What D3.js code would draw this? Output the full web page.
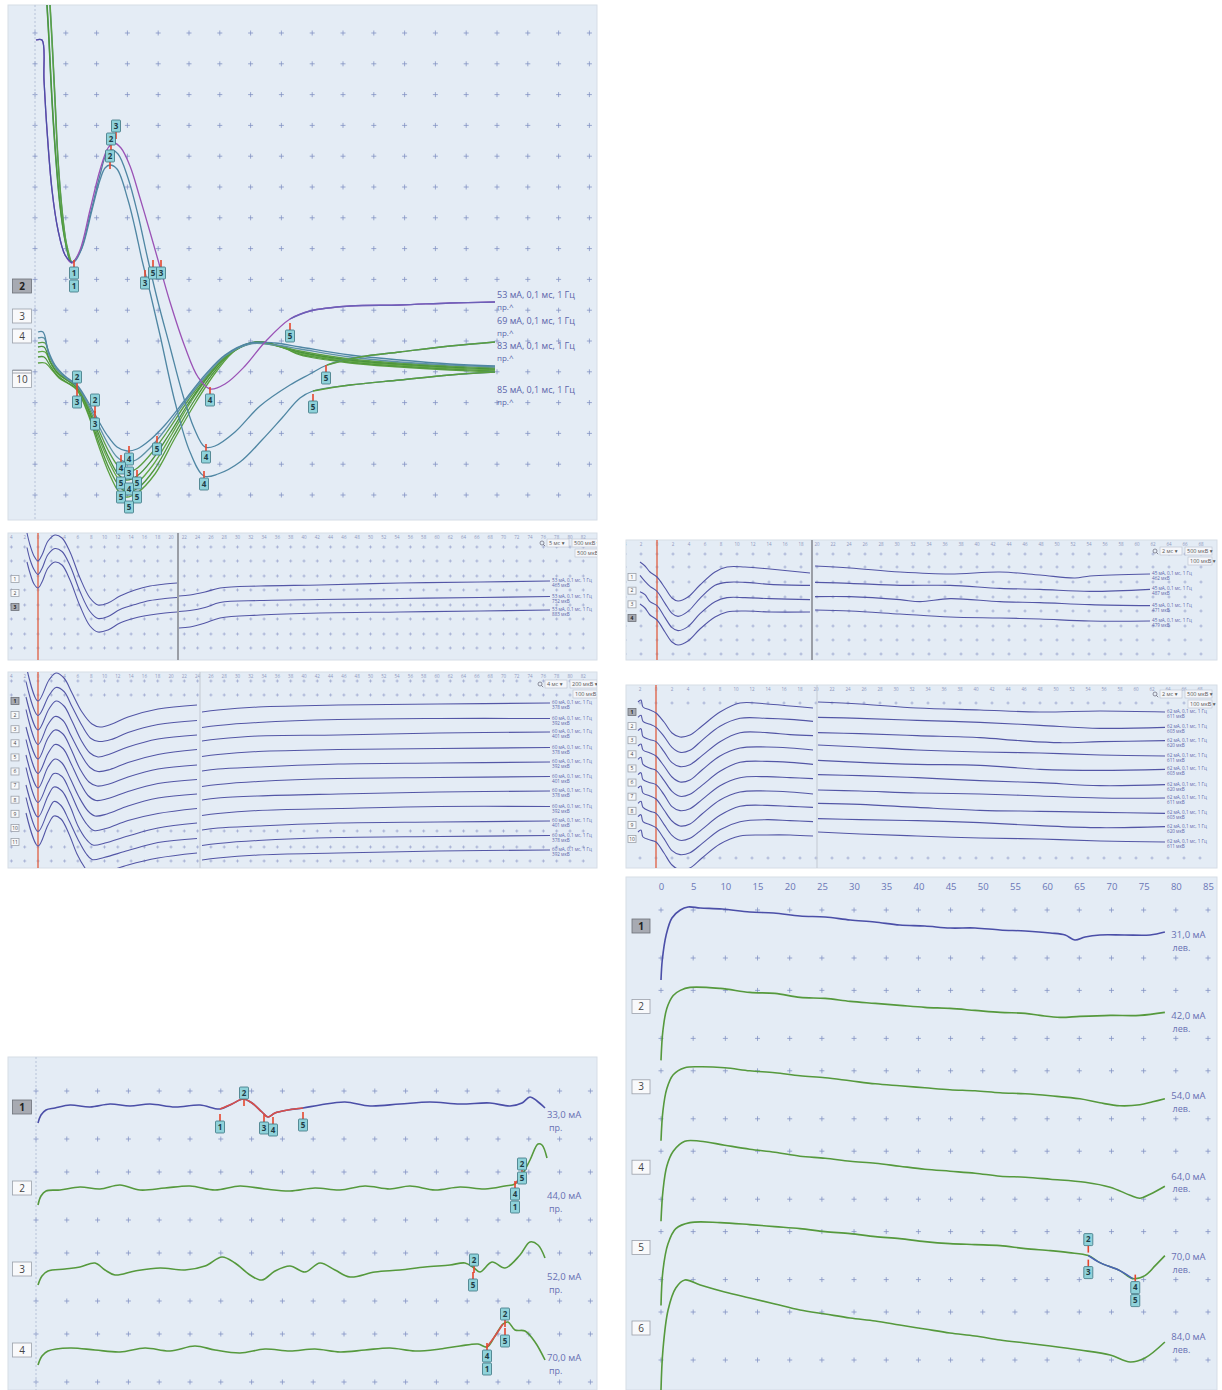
<!DOCTYPE html>
<html lang="ru">
<head>
<meta charset="utf-8">
<title>Вызванные ответы</title>
<script src="https://cdn.jsdelivr.net/npm/d3@7"></script>
<style>
  html,body{margin:0;padding:0;background:#fff;}
  svg{display:block;}
  text{font-family:"Open Sans","Noto Sans","DejaVu Sans",sans-serif;}
</style>
</head>
<body>
<script>
// ===== Panel A: superimposed responses, [time, deflection] in 0.1-division units =====
const waveA53 = [[0.1,0.7],[0.7,0.7],[0.9,4.7],[1.2,9.7],[1.7,15.7],[2.3,19.7],[3.0,22.2],[3.7,23.0],[4.5,21.7],[5.5,17.7],[6.5,13.7],[7.3,11.5],[7.9,11.0],[8.6,11.5],[9.5,13.3],[10.5,16.5],[11.5,19.9],[12.3,22.7],[13.5,26.9],[15.0,31.4],[16.3,34.4],[17.5,35.6],[19.0,35.1],[21.0,33.3],[23.0,30.9],[25.5,28.6],[27.5,27.8],[31.5,27.3],[36.5,27.2],[41.5,27.0],[46.0,26.9]];
const waveA83 = [[1.5,-2.8],[1.7,0.7],[2.0,6.7],[2.3,12.7],[2.7,17.7],[3.1,20.9],[3.6,22.9],[4.5,21.9],[5.5,18.2],[6.5,14.2],[7.1,12.2],[7.6,11.7],[8.3,12.1],[9.3,14.5],[10.3,18.2],[11.3,22.7],[12.3,26.9],[13.5,31.4],[14.7,35.9],[15.9,39.5],[17.0,41.4],[18.0,41.3],[20.0,39.9],[22.5,37.3],[25.5,35.2],[27.5,34.1],[29.2,33.2],[32.5,32.4],[36.5,31.9],[41.5,31.3],[46.0,30.9]];
const waveA85 = [[1.2,-2.8],[1.4,0.7],[1.7,6.7],[2.1,12.7],[2.5,17.2],[3.0,20.7],[3.5,22.7],[3.9,22.9],[4.7,21.5],[5.7,17.7],[6.5,14.7],[7.0,13.5],[7.5,13.2],[8.2,13.6],[9.3,16.7],[10.0,19.5],[10.7,22.7],[11.5,25.9],[12.5,30.2],[14.0,36.9],[15.5,41.9],[16.9,44.3],[18.3,44.1],[20.5,42.9],[22.7,40.7],[24.7,38.5],[26.5,36.5],[27.8,35.8],[31.5,35.2],[36.5,34.7],[41.5,34.2],[46.0,33.9]];
const sweepA1 = [[0.3,29.9],[0.8,29.9],[1.3,31.7],[2.0,33.2],[3.0,34.3],[4.2,35.2],[5.2,36.7],[6.2,38.5],[7.2,40.2],[8.2,41.4],[9.2,41.8],[10.2,41.6],[11.5,40.7],[13.0,39.2],[15.0,36.7],[17.0,34.2],[19.0,32.2],[21.5,31.0],[24.0,31.0],[26.5,31.4],[31.5,32.2],[36.5,32.7],[41.5,33.1],[46.0,33.3]];
const sweepA2 = [[0.3,30.5],[0.9,30.5],[1.4,32.2],[2.1,33.5],[3.1,34.5],[4.2,35.3],[5.2,36.9],[6.2,38.9],[7.2,40.9],[8.2,42.4],[9.1,42.9],[10.1,42.7],[11.5,41.5],[13.0,39.7],[15.0,36.9],[17.0,34.4],[19.0,32.3],[21.5,31.1],[24.0,31.2],[26.5,31.6],[31.5,32.4],[36.5,32.9],[41.5,33.2],[46.0,33.4]];
const sweepA3 = [[0.3,31.0],[1.0,31.0],[1.5,32.5],[2.2,33.7],[3.2,34.6],[4.2,35.3],[5.2,37.1],[6.2,39.3],[7.3,41.7],[8.3,43.3],[9.1,43.9],[10.1,43.6],[11.5,42.2],[13.2,39.9],[15.2,36.9],[17.2,34.3],[19.2,32.2],[21.7,31.0],[24.2,31.3],[26.5,31.8],[31.5,32.6],[36.5,33.0],[41.5,33.3],[46.0,33.5]];
const sweepA4 = [[0.3,31.4],[0.9,31.4],[1.5,32.8],[2.2,33.9],[3.2,34.7],[4.2,35.4],[5.2,37.3],[6.2,39.7],[7.3,42.3],[8.3,44.1],[9.1,44.7],[10.2,44.3],[11.7,42.7],[13.5,40.0],[15.5,36.8],[17.5,34.1],[19.5,32.0],[22.0,30.9],[24.5,31.3],[26.5,31.9],[31.5,32.7],[36.5,33.1],[41.5,33.4],[46.0,33.6]];
const sweepA5 = [[0.3,31.9],[1.0,31.9],[1.6,33.1],[2.3,34.1],[3.3,34.8],[4.2,35.5],[5.3,37.7],[6.3,40.3],[7.4,42.9],[8.4,44.7],[9.2,45.4],[10.3,44.9],[11.8,43.2],[13.7,40.1],[15.7,36.7],[17.7,33.9],[19.7,31.9],[22.2,30.9],[24.7,31.4],[26.5,32.0],[31.5,32.8],[36.5,33.2],[41.5,33.5],[46.0,33.7]];
const sweepA6 = [[0.3,32.4],[0.9,32.4],[1.6,33.4],[2.3,34.3],[3.3,35.0],[4.2,35.6],[5.3,37.9],[6.3,40.7],[7.4,43.5],[8.4,45.3],[9.2,45.9],[10.3,45.5],[11.9,43.7],[13.8,40.4],[15.9,36.8],[17.9,33.9],[19.9,31.8],[22.4,30.9],[24.9,31.5],[26.5,32.1],[31.5,32.9],[36.5,33.3],[41.5,33.6],[46.0,33.8]];
const sweepA7 = [[0.3,33.0],[1.0,33.0],[1.7,33.7],[2.4,34.5],[3.4,35.1],[4.2,35.7],[5.3,38.1],[6.3,41.1],[7.4,44.0],[8.4,45.9],[9.1,46.4],[10.2,46.0],[12.0,44.1],[14.0,40.5],[16.1,36.9],[18.1,33.9],[20.1,31.7],[22.6,30.9],[25.1,31.6],[26.5,32.2],[31.5,33.0],[36.5,33.4],[41.5,33.7],[46.0,33.9]];
// cursor tags: [time, deflection, label, stem]
const tagsA = [[3.9,25.3,"1",""],[3.9,24.0,"1","u"],[8.1,9.3,"3","d"],[7.6,10.6,"2","d"],[7.5,12.3,"2","d"],
  [11.0,25.0,"3","u"],[11.8,24.0,"5","u"],[12.6,24.0,"3","u"],[25.5,30.3,"5","u"],[17.5,36.7,"4","u"],
  [17.1,42.4,"4","u"],[16.9,45.1,"4","u"],[29.1,34.5,"5","u"],[27.8,37.4,"5","u"],
  [4.2,34.4,"2","d"],[4.2,36.9,"3","u"],[6.0,36.7,"2","d"],[6.0,39.1,"3","u"],[12.2,41.6,"5","u"],
  [9.4,42.6,"4","u"],[8.6,43.5,"4","u"],[9.4,44.0,"3",""],[8.6,45.0,"5",""],[10.2,45.0,"5","u"],
  [9.4,45.6,"4",""],[8.6,46.4,"5",""],[10.2,46.4,"5",""],[9.4,47.4,"5",""]];
const stimA = ["53 мА, 0,1 мс, 1 Гц","69 мА, 0,1 мс, 1 Гц","83 мА, 0,1 мс, 1 Гц","85 мА, 0,1 мс, 1 Гц"];

// ===== Panel B: three sweeps, [time, deflection] relative to each channel row =====
const sweepB1 = [[-1.1,-2.8],[-0.8,-1.6],[-0.4,-0.5],[0,0],[0.4,-0.6],[1.0,-2.0],[1.7,-2.6],[2.4,-2.3],[3.2,-0.9],[4.2,1.7],[5.2,3.7],[6.0,4.4],[7.0,4.2],[8.2,3.5],[9.7,2.9],[11.2,2.5],[12.7,2.3],[13.9,2.2],null,[14.1,3.5],[15.2,3.4],[16.7,3.1],[18.2,2.7],[22.2,2.5],[28.2,2.4],[36.2,2.2],[44.2,2.1],[51.2,2.0]];
const sweepB2 = [[-1.1,-2.7],[-0.8,-1.5],[-0.4,-0.5],[0,0],[0.4,-0.6],[1.0,-2.0],[1.7,-2.6],[2.4,-2.3],[3.2,-0.9],[4.2,1.7],[5.2,3.7],[6.0,4.4],[7.0,4.2],[8.2,3.5],[9.7,3.0],[11.2,2.6],[12.7,2.4],[13.9,2.3],null,[14.1,3.7],[15.2,3.6],[16.7,3.3],[18.2,2.8],[22.2,2.6],[28.2,2.5],[36.2,2.4],[44.2,2.3],[51.2,2.2]];
const sweepB3 = [[-1.1,-2.6],[-0.8,-1.5],[-0.4,-0.4],[0,0],[0.4,-0.6],[1.0,-2.0],[1.7,-2.6],[2.4,-2.3],[3.2,-0.8],[4.2,1.8],[5.2,3.8],[6.0,4.4],[7.0,4.2],[8.2,3.5],[9.7,3.0],[11.2,2.7],[12.7,2.5],[13.9,2.4],null,[14.1,4.0],[15.2,3.9],[16.7,3.5],[18.2,3.0],[22.2,2.7],[28.2,2.5],[36.2,2.4],[44.2,2.3],[51.2,2.2]];

// ===== Panel C: eleven sweeps =====
const sweepC1 = [[-1.2,-3.6],[0,0],[1.1,-2.1],[1.8,-2.8],[2.6,-2.3],[3.4,-0.8],[4.4,1.1],[5.4,2.3],[6.2,2.6],[7.4,2.3],[9,1.6],[12,0.8],[15.9,0.4],null,[16.4,1.1],[18,0.9],[22,0.6],[30,0.4],[40,0.3],[51.2,0.2]];
const sweepC2 = [[-1.2,-3.4],[0,0],[1.1,-2.0],[1.8,-2.8],[2.6,-2.4],[3.4,-0.9],[4.4,1.0],[5.3,2.3],[6.1,2.6],[7.3,2.4],[9,1.7],[12,0.9],[15.9,0.5],null,[16.4,1.2],[18,1.0],[22,0.7],[30,0.4],[40,0.3],[51.2,0.3]];
const sweepC3 = [[-1.2,-3.3],[0,0],[1.1,-2.1],[1.8,-2.9],[2.6,-2.4],[3.4,-0.9],[4.3,1.0],[5.2,2.3],[6.0,2.7],[7.2,2.4],[9,1.7],[12,0.9],[15.9,0.5],null,[16.4,1.1],[18,0.9],[22,0.6],[30,0.5],[40,0.3],[51.2,0.2]];
const sweepC4 = [[-1.2,-3.5],[0,0],[1.0,-2.0],[1.7,-2.8],[2.5,-2.4],[3.3,-0.9],[4.3,1.0],[5.2,2.3],[6.0,2.7],[7.2,2.5],[9,1.8],[12,1.0],[15.9,0.5],null,[16.4,1.2],[18,1.0],[22,0.7],[30,0.5],[40,0.4],[51.2,0.3]];
const sweepC5 = [[-1.2,-3.2],[0,0],[1.0,-2.1],[1.7,-2.9],[2.5,-2.5],[3.3,-1.0],[4.2,1.0],[5.1,2.3],[5.9,2.7],[7.1,2.5],[9,1.8],[12,1.0],[15.9,0.6],null,[16.4,1.2],[18,1.0],[22,0.8],[30,0.5],[40,0.4],[51.2,0.3]];
const sweepC6 = [[-1.2,-3.4],[0,0],[1.0,-2.0],[1.7,-2.9],[2.5,-2.5],[3.3,-1.0],[4.2,0.9],[5.0,2.2],[5.8,2.7],[7.0,2.5],[9,1.8],[12,1.0],[15.9,0.6],null,[16.4,1.3],[18,1.1],[22,0.8],[30,0.5],[40,0.4],[51.2,0.3]];
const sweepC7 = [[-1.2,-3.3],[0,0],[1.0,-2.1],[1.7,-2.9],[2.4,-2.5],[3.2,-1.0],[4.1,0.9],[5.0,2.3],[5.7,2.8],[6.9,2.6],[9,1.8],[12,1.0],[15.9,0.6],null,[16.4,1.2],[18,1.0],[22,0.8],[30,0.6],[40,0.4],[51.2,0.3]];
const sweepC8 = [[-1.2,-3.5],[0,0],[1.0,-2.0],[1.6,-2.9],[2.4,-2.6],[3.2,-1.1],[4.1,0.9],[4.9,2.2],[5.6,2.8],[6.8,2.6],[9,1.8],[12,1.1],[15.9,0.6],null,[16.4,1.3],[18,1.1],[22,0.8],[30,0.6],[40,0.4],[51.2,0.4]];
const sweepC9 = [[-1.2,-3.2],[0,0],[1.0,-2.1],[1.6,-3.0],[2.4,-2.6],[3.2,-1.1],[4.0,0.9],[4.8,2.2],[5.5,2.8],[6.7,2.6],[9,1.9],[12,1.1],[15.9,0.6],null,[16.4,1.3],[18,1.1],[22,0.9],[30,0.6],[40,0.5],[51.2,0.4]];
const sweepC10 = [[-1.2,-3.4],[0,0],[1.0,-2.0],[1.6,-3.0],[2.3,-2.6],[3.1,-1.1],[4.0,0.8],[4.8,2.2],[5.4,2.8],[6.6,2.6],[9,1.9],[12,1.1],[15.9,0.7],null,[16.4,1.4],[18,1.2],[22,0.9],[30,0.6],[40,0.5],[51.2,0.4]];
const sweepC11 = [[-1.2,-3.3],[0,0],[1.0,-2.1],[1.6,-3.0],[2.3,-2.7],[3.1,-1.2],[3.9,0.8],[4.7,2.2],[5.3,2.9],[6.5,2.7],[9,1.9],[12,1.2],[15.9,0.7],null,[16.4,1.4],[18,1.2],[22,0.9],[30,0.7],[40,0.5],[51.2,0.4]];

// ===== Panel D: four sweeps =====
const sweepD1 = [[-1.7,-1.5],[-1.2,-1.1],[-0.7,-0.5],[0,0],[0.8,1.1],[1.5,2.1],[2.1,2.4],[3.1,2.0],[4.3,0.8],[5.8,-0.5],[7.0,-1.0],[8.8,-1.0],[11.3,-0.8],[15.3,-0.4],null,[15.8,-1.1],[19.3,-0.9],[24.3,-0.5],[29.3,-0.3],[34.3,-0.5],[38.3,-0.2],[41.8,0.1],[43.3,-0.1],[49.3,-0.3]];
const sweepD2 = [[-1.7,-1.6],[-1.2,-1.0],[-0.7,-0.5],[0,0],[0.8,1.2],[1.5,2.2],[2.1,2.5],[3.1,2.0],[4.3,0.7],[5.8,-0.6],[7.0,-0.9],[8.8,-0.9],[11.3,-0.7],[15.3,-0.6],null,[15.8,-0.9],[19.3,-0.8],[24.3,-0.6],[29.3,-0.6],[34.3,-0.3],[38.3,-0.2],[43.3,0.0],[49.3,-0.2]];
const sweepD3 = [[-1.7,-1.4],[-1.2,-1.1],[-0.7,-0.4],[0,0],[0.8,1.2],[1.5,2.2],[2.1,2.5],[3.1,2.1],[4.3,0.8],[5.8,-0.4],[7.0,-0.8],[8.8,-0.8],[11.3,-0.7],[15.3,-0.6],null,[15.8,-0.9],[19.3,-0.9],[24.3,-0.6],[26.3,-0.4],[29.3,-0.7],[34.3,-0.4],[38.3,-0.3],[43.3,-0.1],[49.3,0.0]];
const sweepD4 = [[-1.7,-1.6],[-1.2,-1.2],[-0.7,-0.5],[0,0],[0.8,1.2],[1.5,2.2],[2.1,2.5],[3.1,2.1],[4.3,0.9],[5.8,-0.3],[7.0,-0.8],[8.8,-0.9],[11.3,-0.8],[15.3,-0.8],null,[15.8,-1.0],[19.3,-0.9],[24.3,-0.6],[29.3,-0.3],[34.3,-0.2],[38.3,-0.1],[43.3,0.1],[49.3,0.1]];

// ===== Panel E: ten sweeps =====
const sweepE1 = [[-1.8,-1.1],[-1.5,-1.3],[-1.3,-0.6],[-0.6,-0.3],[0,0],[0.8,0.9],[1.6,2.0],[2.4,2.4],[3.4,2.2],[4.6,1.3],[6.4,-0.1],[8.4,-1.0],[11.1,-0.9],[13.4,-0.7],[15.7,-0.5],null,[16.2,-1.1],[20.4,-0.9],[26.1,-0.5],[32.4,-0.3],[38.4,-0.1],[44.4,-0.2],[50.9,-0.1]];
const sweepE2 = [[-1.8,-1.0],[-1.5,-1.2],[-1.3,-0.6],[-0.6,-0.3],[0,0],[0.8,0.9],[1.6,2.0],[2.4,2.5],[3.4,2.3],[4.6,1.3],[6.4,-0.1],[8.4,-0.9],[11.1,-0.9],[13.4,-0.8],[15.7,-0.6],null,[16.2,-1.0],[20.4,-0.9],[26.1,-0.7],[32.4,-0.5],[38.4,-0.2],[44.4,0.1],[50.9,0.0]];
const sweepE3 = [[-1.8,-1.1],[-1.5,-1.3],[-1.3,-0.5],[-0.6,-0.2],[0,0],[0.8,1.0],[1.6,2.1],[2.4,2.5],[3.4,2.3],[4.6,1.4],[6.4,0.0],[8.4,-0.9],[11.1,-0.9],[13.4,-0.7],[15.7,-0.6],null,[16.2,-0.9],[20.4,-0.8],[26.1,-0.6],[32.4,-0.4],[36.4,-0.1],[40.4,0.1],[44.4,0.0],[50.9,-0.1]];
const sweepE4 = [[-1.8,-1.0],[-1.5,-1.2],[-1.3,-0.6],[-0.6,-0.3],[0,0],[0.8,1.0],[1.6,2.1],[2.4,2.6],[3.4,2.4],[4.6,1.4],[6.4,0.0],[8.4,-0.8],[11.1,-0.9],[13.4,-0.8],[15.7,-0.6],null,[16.2,-1.1],[20.4,-0.9],[26.1,-0.6],[32.4,-0.4],[38.4,-0.3],[44.4,-0.1],[50.9,0.0]];
const sweepE5 = [[-1.8,-1.1],[-1.5,-1.3],[-1.3,-0.6],[-0.6,-0.2],[0,0],[0.8,1.0],[1.6,2.1],[2.4,2.6],[3.4,2.4],[4.6,1.5],[6.4,0.1],[8.4,-0.8],[11.1,-0.9],[13.4,-0.8],[15.7,-0.6],null,[16.2,-1.0],[20.4,-0.8],[26.1,-0.6],[32.4,-0.5],[38.4,-0.1],[44.4,0.0],[50.9,-0.1]];
const sweepE6 = [[-1.8,-1.0],[-1.5,-1.2],[-1.3,-0.5],[-0.6,-0.2],[0,0],[0.8,1.0],[1.6,2.2],[2.4,2.6],[3.4,2.4],[4.6,1.5],[6.4,0.1],[8.4,-0.7],[11.1,-0.8],[13.4,-0.7],[15.7,-0.6],null,[16.2,-1.0],[20.4,-0.9],[26.1,-0.7],[32.4,-0.4],[38.4,-0.2],[44.4,0.1],[50.9,0.0]];
const sweepE7 = [[-1.8,-1.1],[-1.5,-1.3],[-1.3,-0.6],[-0.6,-0.3],[0,0],[0.8,1.1],[1.6,2.2],[2.4,2.7],[3.4,2.5],[4.6,1.5],[6.4,0.1],[8.4,-0.7],[11.1,-0.8],[13.4,-0.7],[15.7,-0.5],null,[16.2,-0.9],[20.4,-0.8],[26.1,-0.6],[32.4,-0.5],[38.4,-0.3],[44.4,-0.1],[50.9,-0.1]];
const sweepE8 = [[-1.8,-1.0],[-1.5,-1.2],[-1.3,-0.6],[-0.6,-0.2],[0,0],[0.8,1.1],[1.6,2.2],[2.4,2.7],[3.4,2.5],[4.6,1.6],[6.4,0.2],[8.4,-0.7],[11.1,-0.8],[13.4,-0.7],[15.7,-0.6],null,[16.2,-1.0],[20.4,-0.9],[26.1,-0.6],[32.4,-0.3],[38.4,-0.2],[44.4,-0.1],[50.9,0.0]];
const sweepE9 = [[-1.8,-1.1],[-1.5,-1.3],[-1.3,-0.6],[-0.6,-0.3],[0,0],[0.8,1.1],[1.6,2.3],[2.4,2.7],[3.4,2.5],[4.6,1.6],[6.4,0.2],[8.4,-0.6],[11.1,-0.8],[13.4,-0.7],[15.7,-0.6],null,[16.2,-0.9],[20.4,-0.8],[26.1,-0.7],[32.4,-0.5],[38.4,-0.2],[44.4,0.0],[50.9,-0.1]];
const sweepE10 = [[-1.8,-1.0],[-1.5,-1.2],[-1.3,-0.5],[-0.6,-0.2],[0,0],[0.8,1.1],[1.6,2.3],[2.4,2.8],[3.4,2.6],[4.6,1.6],[6.4,0.2],[8.4,-0.6],[11.1,-0.7],[13.4,-0.7],[15.7,-0.6],null,[16.2,-1.0],[20.4,-0.8],[26.1,-0.6],[32.4,-0.4],[38.4,-0.3],[44.4,-0.1],[50.9,0.0]];

// ===== Panel F: four traces, right side =====
const traceF1 = [[0.2,1.6],[0.5,0.8],[1.0,0.3],[1.9,0.1],[3.4,-0.2],[5.4,0],[7.4,-0.3],[9.4,-0.1],[11.4,-0.3],[13.9,0],[16.4,-0.2],[18.4,0.2],[19.6,-0.3],[20.7,-0.8],[21.6,-0.4],[22.6,0.5],[23.2,1.0],[23.9,0.6],[25.2,0.3],[26.7,0.1],[28.4,-0.2],[30.9,-0.5],[33.4,-0.1],[36.4,-0.3],[39.4,-0.5],[42.4,-0.3],[45.4,-0.4],[47.4,-0.1],[48.6,-0.4],[49.4,-1.0],[50.1,-0.6],[50.9,0.1]];
const traceF2 = [[0.2,1.7],[0.5,0.8],[1.0,0.3],[2.4,0.2],[4.4,-0.1],[6.4,0.1],[8.4,-0.3],[10.4,0.2],[12.9,0],[15.4,-0.2],[17.9,0.2],[20.4,-0.2],[22.9,0.1],[25.4,0.3],[27.9,0],[30.4,0.2],[32.9,-0.2],[35.4,0.1],[37.4,-0.2],[39.9,0.2],[42.4,-0.1],[44.9,0.1],[46.9,-0.2],[47.9,-0.4],[48.6,-1.3],[49.4,-2.8],[50.2,-4.4],[50.6,-4.3],[51.1,-3.0]];
const traceF3 = [[0.2,1.6],[0.6,0.7],[1.2,0.2],[2.9,0],[4.4,-0.2],[5.9,-0.6],[6.9,0.1],[7.9,0.6],[9.9,0.2],[12.4,-0.1],[14.9,0.1],[16.9,-0.3],[18.6,-1.2],[19.9,-0.6],[21.4,0.6],[22.6,1.1],[23.9,0.2],[25.4,-0.3],[26.9,0.3],[28.4,-0.6],[29.9,0.1],[31.4,0.8],[33.9,0.3],[36.4,0.1],[38.9,-0.2],[41.4,-0.4],[42.9,-0.6],[43.8,-0.1],[44.4,0.3],[45.6,-0.7],[46.9,-0.1],[48.4,-1.4],[49.4,-2.7],[50.2,-2.4],[50.9,-1.1]];
const traceF4 = [[0.2,1.5],[0.6,0.6],[1.2,0.1],[3.4,-0.2],[5.9,0],[8.4,0.2],[10.9,-0.2],[13.4,0.1],[15.9,-0.4],[17.9,0],[20.4,0.3],[22.9,-0.1],[25.4,0.1],[27.9,-0.1],[30.4,0.2],[32.9,0],[35.4,-0.2],[37.9,0.1],[40.4,-0.1],[42.4,-0.4],[44.2,-0.6],[45.1,-0.3],[45.9,-1.4],[46.7,-2.6],[47.2,-2.8],[47.9,-2.0],[48.9,-1.9],[49.9,-0.8],[50.9,1.0]];
// cursor tags: [trace, time, deflection, label, stem]
const tagsF = [[1,18.4,2.0,"1","u"],[1,20.8,-1.4,"2","d"],[1,22.8,2.1,"3","u"],[1,23.7,2.3,"4","u"],[1,26.7,1.8,"5","u"],
  [2,48.6,-2.4,"2","d"],[2,48.6,-1.0,"5",""],[2,47.9,0.6,"4","u"],[2,47.9,1.9,"1",""],
  [3,43.8,-0.9,"2","d"],[3,43.7,1.6,"5","u"],
  [4,46.9,-3.6,"2","d"],[4,46.9,-0.9,"5","u"],[4,45.1,0.6,"4","u"],[4,45.1,1.9,"1",""]];
const intensF = ["33,0 мА","44,0 мА","52,0 мА","70,0 мА"];

// ===== Panel G: six traces, left side, time in ms =====
const traceG1 = [[0,5.4],[0.2,3.4],[0.8,0.9],[1.7,-0.8],[3.0,-1.6],[4.2,-1.9],[6.1,-1.8],[9.5,-1.7],[13.8,-1.4],[17.5,-1.3],[21.6,-1.0],[25.5,-0.9],[29.4,-0.6],[33.2,-0.4],[37.1,-0.1],[41.0,0.0],[44.9,0.2],[48.8,0.2],[52.7,0.4],[56.6,0.5],[60.5,0.7],[62.8,0.9],[64.3,1.4],[65.9,1.1],[68.2,0.9],[72.0,0.9],[76.0,0.9],[78.3,0.6]];
const traceG2 = [[0,5.4],[0.3,2.4],[0.9,0.2],[1.9,-1.1],[3.0,-1.6],[4.5,-1.9],[9.2,-1.8],[13.8,-1.4],[17.7,-1.3],[21.6,-0.9],[25.5,-0.8],[29.4,-0.5],[33.3,-0.3],[37.1,-0.1],[41.0,0.1],[44.9,0.2],[48.8,0.4],[52.7,0.6],[56.6,0.7],[58.9,0.9],[62.0,1.1],[65.1,1.0],[69.8,0.9],[74.4,0.9],[78.3,0.6]];
const traceG3 = [[0,5.4],[0.3,2.4],[0.9,0.2],[1.9,-1.2],[3.7,-1.9],[6.1,-2.0],[9.9,-1.9],[13.8,-1.6],[17.7,-1.4],[21.6,-1.1],[25.5,-0.9],[29.4,-0.6],[33.3,-0.3],[37.1,-0.1],[41.0,0.1],[44.9,0.3],[48.8,0.4],[52.7,0.6],[56.6,0.7],[60.5,0.9],[65.1,1.2],[68.2,1.6],[71.3,1.9],[74.4,1.8],[76.4,1.5],[78.3,1.2]];
const traceG4 = [[0,5.4],[0.3,2.4],[0.9,-0.1],[1.9,-1.6],[3.7,-2.6],[6.1,-2.6],[9.9,-2.2],[13.8,-1.8],[17.7,-1.5],[21.6,-1.1],[25.5,-0.9],[29.4,-0.6],[33.3,-0.4],[37.1,-0.1],[41.0,0.2],[44.9,0.4],[48.8,0.6],[52.7,0.9],[56.6,1.0],[60.5,1.2],[65.9,1.5],[69.8,2.0],[72.9,2.8],[74.4,3.1],[76.0,2.7],[78.3,1.9]];
const traceG5 = [[0,5.8],[0.3,2.3],[1.1,-0.4],[2.3,-1.9],[4.5,-2.5],[9.2,-2.5],[13.8,-2.3],[17.7,-2.1],[21.6,-1.9],[25.5,-1.6],[29.4,-1.4],[33.3,-1.1],[37.1,-0.9],[41.0,-0.6],[44.9,-0.4],[48.8,-0.3],[52.7,-0.2],[56.6,0.1],[60.5,0.3],[63.4,0.5],[66.4,0.8],[68.2,1.5],[71.3,2.3],[73.3,3.1],[75.2,2.8],[76.8,1.8],[78.3,0.8]];
const traceG6 = [[0,6.2],[0.3,2.2],[1.1,-1.8],[2.3,-4.0],[3.7,-4.8],[6.1,-4.3],[9.9,-3.6],[13.8,-3.0],[17.7,-2.4],[21.6,-1.8],[25.5,-1.4],[29.4,-1.0],[33.3,-0.7],[37.1,-0.3],[41.0,0.1],[44.9,0.5],[48.8,0.8],[52.7,1.2],[56.6,1.5],[60.5,1.8],[65.1,2.2],[69.8,2.7],[72.9,3.4],[75.2,3.0],[78.3,1.4]];
const tagsG = [[5,66.4,-0.8,"2","d"],[5,66.4,2.5,"3","u"],[5,73.7,4.0,"4","u"],[5,73.7,5.3,"5",""]];
const intensG = ["31,0 мА","42,0 мА","54,0 мА","64,0 мА","70,0 мА","84,0 мА"];
const timeTicksG = [0,5,10,15,20,25,30,35,40,45,50,55,60,65,70,75,80,85];

// ===== drawing =====
const BG = "#e4ecf5", BLUE = "#4b4fa8", GREEN = "#55993c", TEAL = "#4f86a3", PURPLE = "#9a52b6", RED = "#e5462c";
const svg = d3.select("body").append("svg").attr("width", 1222).attr("height", 1390);
const defs = svg.append("defs");

// slight roughness for the raw recording traces
const jitter = defs.append("filter").attr("id", "jitter")
  .attr("x", "-2%").attr("y", "-10%").attr("width", "104%").attr("height", "120%");
jitter.append("feTurbulence").attr("type", "fractalNoise").attr("baseFrequency", "0.9 0.6")
  .attr("numOctaves", 1).attr("seed", 7).attr("result", "n");
jitter.append("feDisplacementMap").attr("in", "SourceGraphic").attr("in2", "n")
  .attr("scale", 1.3).attr("xChannelSelector", "R").attr("yChannelSelector", "G");

function panel(x, y, w, h, id) {
  defs.append("clipPath").attr("id", id).append("rect").attr("x", x).attr("y", y).attr("width", w).attr("height", h);
  svg.append("rect").attr("x", x).attr("y", y).attr("width", w).attr("height", h)
    .attr("fill", BG).attr("stroke", "#d6dde6").attr("stroke-width", 1);
  return svg.append("g").attr("clip-path", `url(#${id})`);
}
function crosses(g, xs, ys, col, arm, op) {
  let d = "";
  xs.forEach(x => ys.forEach(y => { d += `M${x - arm},${y}h${2 * arm}M${x},${y - arm}v${2 * arm}`; }));
  g.append("path").attr("d", d).attr("stroke", col).attr("stroke-width", 1).attr("opacity", op).attr("fill", "none");
}
function chanBox(g, cx, cy, w, h, label, on, fs) {
  g.append("rect").attr("x", cx - w / 2).attr("y", cy - h / 2).attr("width", w).attr("height", h)
    .attr("fill", on ? "#a7aab2" : "#f8f9fb").attr("stroke", on ? "#6d7178" : "#9ba1aa").attr("stroke-width", 0.8);
  g.append("text").attr("x", cx).attr("y", cy).attr("dy", "0.36em").attr("text-anchor", "middle")
    .attr("font-size", fs).attr("fill", on ? "#222" : "#444").attr("font-weight", on ? 700 : 400).text(label);
}
function tag(g, x, y, label, stem) {
  const w = 9, h = 12;
  if (stem === "u") g.append("line").attr("x1", x).attr("x2", x).attr("y1", y - h / 2 - 7).attr("y2", y - h / 2)
    .attr("stroke", RED).attr("stroke-width", 1.6);
  if (stem === "d") g.append("line").attr("x1", x).attr("x2", x).attr("y1", y + h / 2).attr("y2", y + h / 2 + 7)
    .attr("stroke", RED).attr("stroke-width", 1.6);
  g.append("rect").attr("x", x - w / 2).attr("y", y - h / 2).attr("width", w).attr("height", h).attr("rx", 1)
    .attr("fill", "#8fd2da").attr("stroke", "#3b7480").attr("stroke-width", 0.8);
  g.append("text").attr("x", x).attr("y", y).attr("dy", "0.36em").attr("text-anchor", "middle")
    .attr("font-size", 8).attr("font-weight", 700).attr("fill", "#1e3c46").text(label);
}
function control(g, x, y, w, txt) {
  g.append("rect").attr("x", x).attr("y", y).attr("width", w).attr("height", 8)
    .attr("fill", "#f4f6fa").attr("stroke", "#b9c0cc").attr("stroke-width", 0.6);
  g.append("text").attr("x", x + 2).attr("y", y + 6).attr("font-size", 5.5).attr("fill", "#555").text(txt);
}
function magnifier(g, x, y) {
  g.append("circle").attr("cx", x).attr("cy", y).attr("r", 2).attr("fill", "none").attr("stroke", "#667").attr("stroke-width", 0.7);
  g.append("line").attr("x1", x + 1.4).attr("y1", y + 1.4).attr("x2", x + 3.2).attr("y2", y + 3.2).attr("stroke", "#667").attr("stroke-width", 0.8);
}
const amp = d3.scaleLinear().domain([0, 1]).range([0, 10]);

// ---------- Panel A ----------
const xA = d3.scaleLinear().domain([0, 10]).range([35, 135]);
const yA = d3.scaleLinear().domain([0, 10]).range([33, 133]);
const gA = panel(8, 5, 589, 515, "clipA");
const divA = 3.08;
crosses(gA, d3.range(19).map(i => xA(i * divA)), d3.range(16).map(i => yA(i * divA)), "#7f8fc2", 2.5, 0.75);
gA.append("line").attr("x1", xA(0)).attr("x2", xA(0)).attr("y1", 5).attr("y2", 520)
  .attr("stroke", "#b6c2d8").attr("stroke-dasharray", "2,2");
const lineA = d3.line().x(d => xA(d[0])).y(d => yA(d[1])).curve(d3.curveCatmullRom.alpha(0.5));
const bundleA = [sweepA7, sweepA6, sweepA5, sweepA4, sweepA3, sweepA2, sweepA1];
const bundleCol = ["#5aa040", "#4f963b", "#62a846", "#48913a", "#5c9f45", "#5f92a6", "#4f86a3"];
bundleA.forEach((s, i) => gA.append("path").attr("d", lineA(s)).attr("fill", "none")
  .attr("stroke", bundleCol[i]).attr("stroke-width", 1.3));
gA.append("path").attr("d", lineA(waveA85)).attr("fill", "none").attr("stroke", TEAL).attr("stroke-width", 1.3);
gA.append("path").attr("d", lineA(waveA83)).attr("fill", "none").attr("stroke", TEAL).attr("stroke-width", 1.3);
gA.append("path").attr("d", lineA(waveA53)).attr("fill", "none").attr("stroke", PURPLE).attr("stroke-width", 1.3);
// stimulus artefacts and late tails in the channel colours
gA.append("path").attr("d", lineA(waveA85.filter(d => d[0] <= 3.5))).attr("fill", "none").attr("stroke", "#4e9a3c").attr("stroke-width", 1.6);
gA.append("path").attr("d", lineA(waveA83.filter(d => d[0] <= 3.6))).attr("fill", "none").attr("stroke", "#5aa246").attr("stroke-width", 1.6);
gA.append("path").attr("d", lineA(waveA85.filter(d => d[0] >= 27.8))).attr("fill", "none").attr("stroke", "#5a9e3e").attr("stroke-width", 1.3);
gA.append("path").attr("d", lineA(waveA83.filter(d => d[0] >= 29.2))).attr("fill", "none").attr("stroke", "#5a9e3e").attr("stroke-width", 1.3);
gA.append("path").attr("d", lineA(waveA53.filter(d => d[0] <= 3.7))).attr("fill", "none").attr("stroke", BLUE).attr("stroke-width", 1.3);
gA.append("path").attr("d", lineA(waveA53.filter(d => d[0] >= 25.5))).attr("fill", "none").attr("stroke", "#6a60b8").attr("stroke-width", 1.3);
tagsA.forEach(t => tag(gA, xA(t[0]), yA(t[1]), t[2], t[3]));
const labelRowsA = [26.2, 28.8, 31.3, 35.7];
stimA.forEach((s, i) => {
  gA.append("text").attr("x", xA(46.2)).attr("y", yA(labelRowsA[i])).attr("dy", "0.35em")
    .attr("font-size", 9).attr("fill", "#5b64aa").text(s);
  gA.append("text").attr("x", xA(46.2)).attr("y", yA(labelRowsA[i] + 1.2)).attr("dy", "0.35em")
    .attr("font-size", 8).attr("fill", "#5b64aa").text("пр.^");
});
chanBox(gA, 22, yA(25.3), 19, 14, "2", true, 10);
chanBox(gA, 22, yA(28.3), 19, 14, "3", false, 10);
chanBox(gA, 22, yA(30.3), 19, 14, "4", false, 10);
chanBox(gA, 22, yA(34.6), 19, 17, "10", false, 10);
[0.0, 0.3].forEach(o => gA.append("line").attr("x1", 12.5).attr("x2", 31.5).attr("y1", yA(33.7 + o)).attr("y2", yA(33.7 + o))
  .attr("stroke", "#8d939c").attr("stroke-width", 0.8));

// ---------- small stacked panels (B, C, D, E) ----------
function stacked(cfg) {
  const g = panel(cfg.x, cfg.y, cfg.w, cfg.h, cfg.id);
  const xs = d3.scaleLinear().domain([0, 10]).range([cfg.x0, cfg.x0 + 100]);
  const row = d3.scalePoint().domain(d3.range(cfg.sweeps.length)).range(cfg.rows);
  const colT = d3.range(-cfg.colsBefore, cfg.cols).map(i => i * cfg.colStep);
  crosses(g, colT.map(xs), cfg.gridRows.map(v => row(0) + amp(v)), "#8894c4", 1.6, 0.55);
  colT.forEach((t, i) => g.append("text").attr("x", xs(t)).attr("y", cfg.y + 6).attr("text-anchor", "middle")
    .attr("font-size", 4.5).attr("fill", "#8d97bd").text(Math.abs(i - cfg.colsBefore) * cfg.tickLabelStep));
  g.append("line").attr("x1", xs(0)).attr("x2", xs(0)).attr("y1", cfg.y).attr("y2", cfg.y + cfg.h)
    .attr("stroke", "#e0684e").attr("stroke-width", 1.4);
  g.append("line").attr("x1", xs(cfg.split)).attr("x2", xs(cfg.split)).attr("y1", cfg.y).attr("y2", cfg.y + cfg.h)
    .attr("stroke", cfg.splitCol).attr("stroke-width", cfg.splitW);
  cfg.sweeps.forEach((s, i) => {
    const ln = d3.line().defined(d => d !== null).x(d => xs(d[0])).y(d => row(i) + amp(d[1]))
      .curve(d3.curveCatmullRom.alpha(0.5));
    g.append("path").attr("d", ln(s)).attr("fill", "none").attr("stroke", "#5356a6").attr("stroke-width", 1.1)
      .attr("filter", "url(#jitter)");
    const last = s[s.length - 1];
    g.append("text").attr("x", xs(last[0]) + 2).attr("y", row(i) + amp(last[1]) + 1).attr("font-size", 4.6)
      .attr("fill", "#5b64aa").text(cfg.stim);
    g.append("text").attr("x", xs(last[0]) + 2).attr("y", row(i) + amp(last[1]) + 6).attr("font-size", 4.6)
      .attr("fill", "#5b64aa").text(cfg.amp[i % cfg.amp.length]);
    chanBox(g, cfg.boxX, cfg.boxes[0] + i * (cfg.boxes[1] - cfg.boxes[0]) / (cfg.sweeps.length - 1), 8, 7,
      String(i + 1), i === cfg.active, 5);
  });
  magnifier(g, cfg.ctrl[0] - 5, cfg.ctrl[1] + 4);
  control(g, cfg.ctrl[0], cfg.ctrl[1], 22, cfg.sweepTxt + " ▾");
  control(g, cfg.ctrl[0] + 25, cfg.ctrl[1], 27, cfg.gainTxt + " ▾");
  control(g, cfg.ctrl[0] + 28, cfg.ctrl[1] + 10, 24, cfg.gain2Txt + " ▾");
  return g;
}

stacked({ id: "clipB", x: 8, y: 533, w: 589, h: 127, x0: 38, rows: [561, 588],
  sweeps: [sweepB1, sweepB2, sweepB3], colStep: 1.33, colsBefore: 2, cols: 42, tickLabelStep: 2,
  gridRows: [-1.4, 0, 1.5, 2.9, 4.4, 5.8, 7.3, 8.7], split: 14.0, splitCol: "#9a9ea6", splitW: 2,
  stim: "53 мА, 0,1 мс, 1 Гц", amp: ["465 мкВ", "752 мкВ", "883 мкВ"], boxX: 15, boxes: [579, 607], active: 2,
  ctrl: [547, 539], sweepTxt: "5 мс", gainTxt: "500 мкВ", gain2Txt: "500 мкВ" });

stacked({ id: "clipC", x: 8, y: 672, w: 589, h: 196, x0: 38, rows: [701, 846],
  sweeps: [sweepC1, sweepC2, sweepC3, sweepC4, sweepC5, sweepC6, sweepC7, sweepC8, sweepC9, sweepC10, sweepC11],
  colStep: 1.33, colsBefore: 2, cols: 42, tickLabelStep: 2,
  gridRows: [-2.0, -0.6, 13.0, 14.6, 16.0], split: 16.2, splitCol: "#c3c9d2", splitW: 1,
  stim: "60 мА, 0,1 мс, 1 Гц", amp: ["378 мкВ", "392 мкВ", "401 мкВ"], boxX: 15, boxes: [701, 842], active: 0,
  ctrl: [545, 680], sweepTxt: "4 мс", gainTxt: "200 мкВ", gain2Txt: "100 мкВ" });

stacked({ id: "clipD", x: 626, y: 540, w: 591, h: 120, x0: 657, rows: [577, 620],
  sweeps: [sweepD1, sweepD2, sweepD3, sweepD4], colStep: 1.6, colsBefore: 2, cols: 35, tickLabelStep: 2,
  gridRows: [-2.3, -1.0, 0.5, 2.0, 3.4, 4.9, 6.3, 7.7], split: 15.5, splitCol: "#9a9ea6", splitW: 2,
  stim: "45 мА, 0,1 мс, 1 Гц", amp: ["462 мкВ", "487 мкВ", "471 мкВ", "479 мкВ"], boxX: 632, boxes: [577, 618], active: 3,
  ctrl: [1160, 547], sweepTxt: "2 мс", gainTxt: "500 мкВ", gain2Txt: "100 мкВ" });

stacked({ id: "clipE", x: 626, y: 685, w: 591, h: 183, x0: 656, rows: [713, 842],
  sweeps: [sweepE1, sweepE2, sweepE3, sweepE4, sweepE5, sweepE6, sweepE7, sweepE8, sweepE9, sweepE10],
  colStep: 1.6, colsBefore: 2, cols: 35, tickLabelStep: 2,
  gridRows: [-1.0, 14.5, 16.0], split: 16.1, splitCol: "#c3c9d2", splitW: 1,
  stim: "62 мА, 0,1 мс, 1 Гц", amp: ["611 мкВ", "603 мкВ", "620 мкВ"], boxX: 632, boxes: [712, 839], active: 0,
  ctrl: [1160, 690], sweepTxt: "2 мс", gainTxt: "500 мкВ", gain2Txt: "100 мкВ" });

// ---------- Panel F ----------
const xF = d3.scaleLinear().domain([0, 10]).range([36, 136]);
const rowF = d3.scalePoint().domain([1, 2, 3, 4]).range([1107, 1350]);
const gF = panel(8, 1057, 589, 333, "clipF");
const gridF = [];
rowF.domain().forEach(r => [-1.6, 3.2].forEach(v => gridF.push(rowF(r) + amp(v))));
crosses(gF, d3.range(19).map(i => xF(i * 3.08)), gridF, "#7f8fc2", 2.5, 0.75);
gF.append("line").attr("x1", xF(0)).attr("x2", xF(0)).attr("y1", 1057).attr("y2", 1390)
  .attr("stroke", "#b6c2d8").attr("stroke-dasharray", "2,2");
const tracesF = [traceF1, traceF2, traceF3, traceF4];
const segF = [[18.4, 26.7], [47.9, 48.6], [43.7, 43.8], [45.1, 46.9]];
tracesF.forEach((tr, i) => {
  const r = i + 1;
  const ln = d3.line().x(d => xF(d[0])).y(d => rowF(r) + amp(d[1])).curve(d3.curveCatmullRom.alpha(0.5));
  const col = i === 0 ? BLUE : GREEN;
  gF.append("path").attr("d", ln(tr)).attr("fill", "none").attr("stroke", col).attr("stroke-width", 1.6)
    .attr("filter", "url(#jitter)");
  const seg = tr.filter(d => d[0] >= segF[i][0] && d[0] <= segF[i][1]);
  if (seg.length > 1) gF.append("path").attr("d", ln(seg)).attr("fill", "none").attr("stroke", "#d9504a")
    .attr("stroke-width", 1.6).attr("filter", "url(#jitter)");
  gF.append("text").attr("x", xF(51.1)).attr("y", rowF(r) + amp(0.8)).attr("dy", "0.35em").attr("font-size", 9.5)
    .attr("fill", "#6870b3").text(intensF[i]);
  gF.append("text").attr("x", xF(51.3)).attr("y", rowF(r) + amp(2.1)).attr("dy", "0.35em").attr("font-size", 9)
    .attr("fill", "#6870b3").text("пр.");
  chanBox(gF, 22, rowF(r), 19, 14, String(r), i === 0, 10);
});
tagsF.forEach(t => tag(gF, xF(t[1]), rowF(t[0]) + amp(t[2]), t[3], t[4]));

// ---------- Panel G ----------
const xG = d3.scaleLinear().domain([0, 85]).range([661, 1208]);
const rowG = d3.scalePoint().domain([1, 2, 3, 4, 5, 6]).range([926, 1328]);
const gG = panel(626, 877, 591, 513, "clipG");
const gridG = [];
rowG.domain().forEach(r => [-1.6, 3.2].forEach(v => gridG.push(rowG(r) + amp(v))));
crosses(gG, timeTicksG.map(xG), gridG, "#7f8fc2", 2.5, 0.75);
const axisG = svg.append("g").attr("transform", "translate(0,890)")
  .call(d3.axisTop(xG).tickValues(timeTicksG).tickSize(0).tickPadding(0));
axisG.select(".domain").remove();
axisG.selectAll("text").attr("font-size", 9.5).attr("fill", "#6a76b6")
  .attr("font-family", '"Open Sans","Noto Sans",sans-serif');
const tracesG = [traceG1, traceG2, traceG3, traceG4, traceG5, traceG6];
tracesG.forEach((tr, i) => {
  const r = i + 1;
  const ln = d3.line().x(d => xG(d[0])).y(d => rowG(r) + amp(d[1])).curve(d3.curveCatmullRom.alpha(0.5));
  gG.append("path").attr("d", ln(tr)).attr("fill", "none").attr("stroke", i === 0 ? BLUE : GREEN)
    .attr("stroke-width", 1.6).attr("filter", "url(#jitter)");
  if (r === 5) {
    const seg = tr.filter(d => d[0] >= 66.4 && d[0] <= 73.3);
    gG.append("path").attr("d", ln(seg)).attr("fill", "none").attr("stroke", "#4a62b8").attr("stroke-width", 1.6)
      .attr("filter", "url(#jitter)");
  }
  gG.append("text").attr("x", xG(79.3)).attr("y", rowG(r) + amp(0.9)).attr("dy", "0.35em").attr("font-size", 9.5)
    .attr("fill", "#6870b3").text(intensG[i]);
  gG.append("text").attr("x", xG(79.5)).attr("y", rowG(r) + amp(2.2)).attr("dy", "0.35em").attr("font-size", 9)
    .attr("fill", "#6870b3").text("лев.");
  chanBox(gG, 641, rowG(r), 18, 14, String(r), i === 0, 10);
});
tagsG.forEach(t => tag(gG, xG(t[1]), rowG(t[0]) + amp(t[2]), t[3], t[4]));
</script>
</body>
</html>
